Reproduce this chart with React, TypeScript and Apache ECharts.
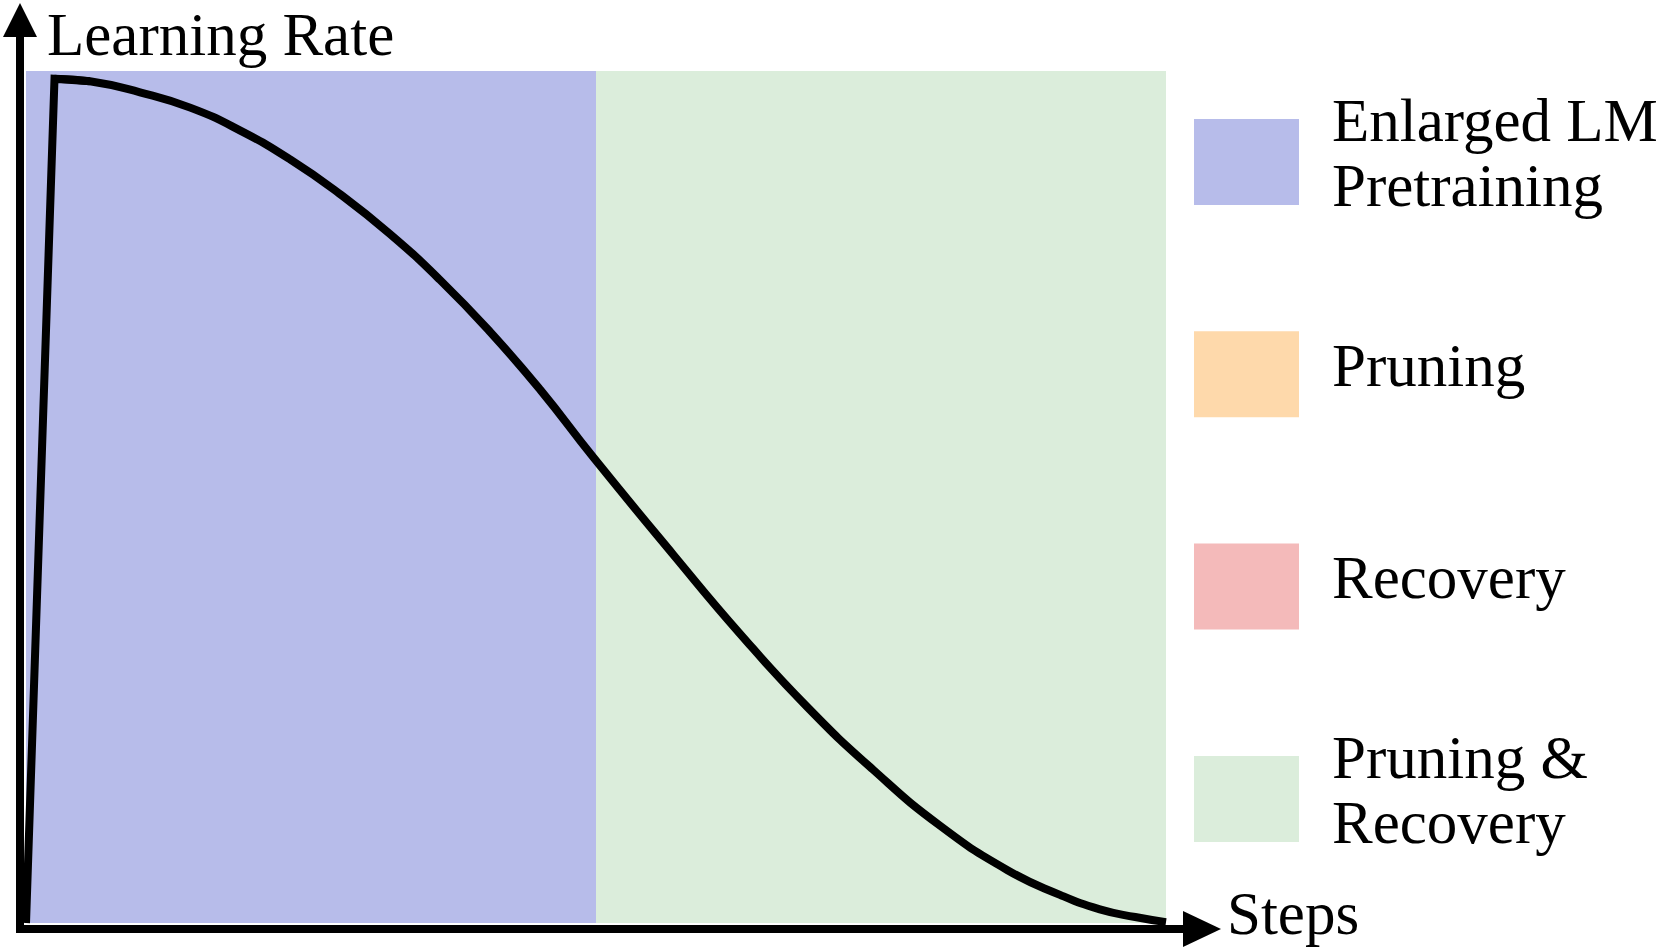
import React, { useEffect, useRef } from "react";
import * as echarts from "echarts";

// ---- data ----
const stepX = [0, 2.5, 5.6, 10, 14.4, 18.8, 23.2, 27.5, 31.9, 36.3, 40.7, 45.1, 49.8, 56.8, 62.6, 68.5, 74.3, 80.2, 86.1, 90.7, 94.2, 97.3, 100];
const learningRate = [0, 0.991, 0.988, 0.975, 0.957, 0.93, 0.896, 0.856, 0.809, 0.755, 0.694, 0.626, 0.546, 0.432, 0.34, 0.254, 0.18, 0.114, 0.062, 0.033, 0.016, 0.007, 0.001];
const warmupEndIndex = 2;

const phaseStart = [0, 50];
const phaseEnd = [50, 100];
const phaseColors = ["#b7bcea", "#dbeddb"];

const legendLabels = ["Enlarged LM\nPretraining", "Pruning", "Recovery", "Pruning &\nRecovery"];
const legendColors = ["#b7bcea", "#fed9ab", "#f4baba", "#dbeddb"];

const yAxisTitle = "Learning Rate";
const xAxisTitle = "Steps";

const FONT = "'Liberation Serif', 'DejaVu Serif', serif";
const FONT_SIZE = 61;

export default function App() {
  const ref = useRef<HTMLDivElement>(null);

  useEffect(() => {
    if (!ref.current) return;
    const chart = echarts.init(ref.current, undefined, { renderer: "svg" });

    const points = stepX.map((x, i) => [x, learningRate[i]]);
    const lineStyle = { color: "#000", width: 8, join: "miter" as const, cap: "butt" as const };

    const legendEls: any[] = [];
    const boxTop0 = 119;
    const boxGap = 212.3;
    const boxW = 105;
    const boxH = 86;
    legendLabels.forEach((label, i) => {
      const top = boxTop0 + boxGap * i;
      const center = top + boxH / 2;
      legendEls.push({
        type: "rect",
        shape: { x: 1194, y: top, width: boxW, height: boxH },
        style: { fill: legendColors[i] },
        z: 100,
      });
      legendEls.push({
        type: "text",
        x: 1332,
        y: center - 9,
        style: {
          text: label,
          fill: "#000",
          font: `${FONT_SIZE}px ${FONT}`,
          lineHeight: 65,
          align: "left",
          verticalAlign: "middle",
        },
        z: 100,
      });
    });

    chart.setOption({
      animation: false,
      backgroundColor: "#fff",
      grid: { left: 26, right: 494, top: 71, bottom: 26 },
      xAxis: { type: "value", min: 0, max: 100, show: false },
      yAxis: { type: "value", min: 0, max: 1, show: false },
      series: [
        {
          type: "line",
          name: "warmup",
          data: points.slice(0, warmupEndIndex + 1),
          showSymbol: false,
          symbol: "none",
          smooth: false,
          lineStyle,
          z: 3,
          markArea: {
            silent: true,
            data: phaseStart.map((s, i) => [
              { xAxis: s, itemStyle: { color: phaseColors[i], opacity: 1 } },
              { xAxis: phaseEnd[i] },
            ]),
          },
        },
        {
          type: "line",
          name: "decay",
          data: points.slice(1),
          showSymbol: false,
          symbol: "none",
          smooth: 0.5,
          lineStyle,
          z: 4,
        },
      ],
      graphic: [
        {
          type: "line",
          shape: { x1: 20, y1: 933, x2: 20, y2: 30 },
          style: { stroke: "#000", lineWidth: 8 },
          z: 100,
        },
        {
          type: "polygon",
          shape: { points: [[3, 37], [20, 3], [37, 37]] },
          style: { fill: "#000" },
          z: 100,
        },
        {
          type: "line",
          shape: { x1: 16, y1: 929, x2: 1190, y2: 929 },
          style: { stroke: "#000", lineWidth: 8 },
          z: 100,
        },
        {
          type: "polygon",
          shape: { points: [[1183, 911], [1221, 929], [1183, 947]] },
          style: { fill: "#000" },
          z: 100,
        },
        {
          type: "text",
          x: 47,
          y: 34,
          style: { text: yAxisTitle, fill: "#000", font: `${FONT_SIZE}px ${FONT}`, align: "left", verticalAlign: "middle" },
          z: 100,
        },
        {
          type: "text",
          x: 1227,
          y: 913,
          style: { text: xAxisTitle, fill: "#000", font: `${FONT_SIZE}px ${FONT}`, align: "left", verticalAlign: "middle" },
          z: 100,
        },
        ...legendEls,
      ],
    });

    return () => chart.dispose();
  }, []);

  return (
    <div
      ref={ref}
      style={{ position: "fixed", left: 0, top: 0, width: 1660, height: 949, background: "#fff" }}
    />
  );
}
